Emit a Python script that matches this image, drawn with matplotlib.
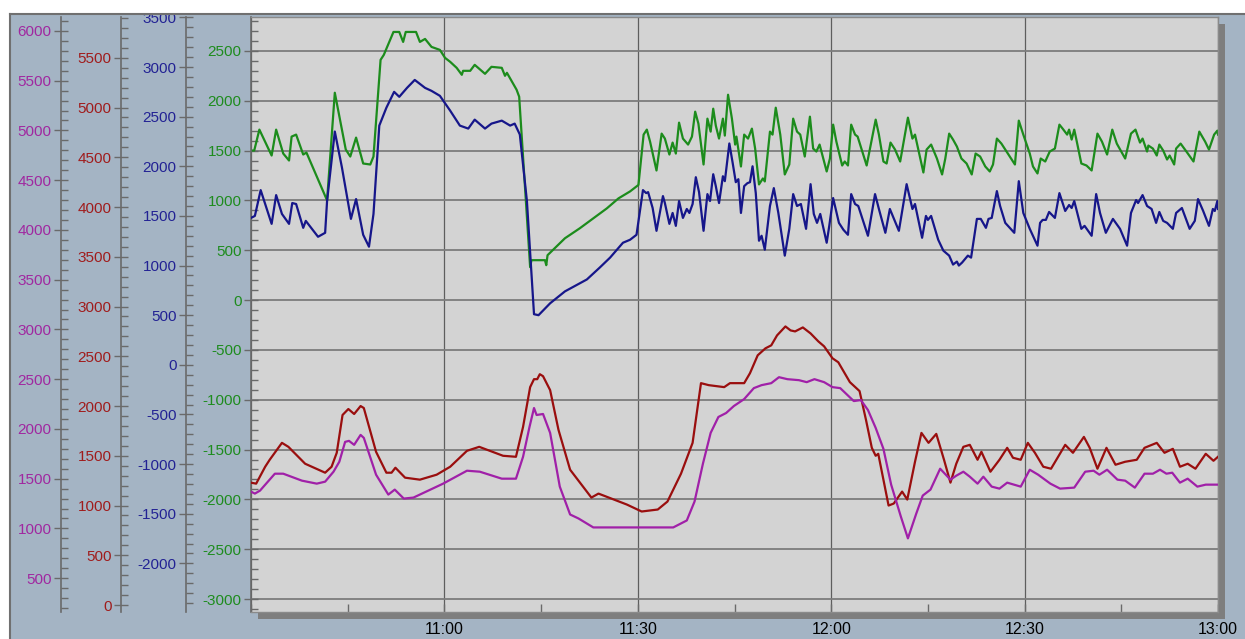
import matplotlib.pyplot as plt
from matplotlib.patches import Rectangle
from matplotlib.ticker import MultipleLocator, FuncFormatter

plt.rcParams['font.family'] = ['Liberation Sans', 'DejaVu Sans']
plt.rcParams['axes.unicode_minus'] = False

# time axis: minutes after 10:30
green_t = [0.0, 0.5, 1.3, 3.2, 3.9, 5.0, 5.9, 6.3, 7.0, 8.1, 8.6, 11.8, 13.0, 14.7, 15.4, 16.3,
           17.4, 18.5, 19.0, 20.1, 20.6, 22.1, 23.0, 23.6, 24.0, 25.6, 26.2, 27.0, 28.0, 29.3,
           30.1, 30.9, 31.9, 32.7, 32.9, 34.0, 34.7, 36.3, 37.3, 38.9, 39.4, 39.7, 41.2, 41.6,
           43.3, 43.5, 45.6, 45.8, 46.0, 48.7, 51.0, 55.2, 57.0, 58.8, 60.1, 60.9, 61.4, 61.9,
           62.9, 63.7, 64.2, 64.9, 65.4, 65.9, 66.4, 67.0, 67.8, 68.4, 68.9, 69.4, 70.2, 70.8,
           71.3, 71.7, 72.1, 72.6, 73.2, 73.5, 74.0, 74.6, 75.1, 75.3, 76.0, 76.5, 77.1, 77.7,
           78.2, 78.8, 79.4, 79.7, 80.5, 80.9, 81.4, 82.1, 82.8, 83.5, 84.1, 84.7, 85.2, 85.9,
           86.7, 87.2, 87.7, 88.2, 89.3, 89.8, 90.3, 90.8, 91.7, 92.1, 92.6, 93.1, 93.7, 94.1,
           95.5, 96.9, 97.4, 98.1, 98.6, 99.2, 99.9, 100.7, 101.9, 102.6, 103.0, 104.3, 104.8,
           105.5, 106.4, 107.2, 107.7, 108.3, 108.9, 109.5, 110.2, 111.0, 111.8, 112.4, 113.1,
           113.9, 114.6, 115.1, 115.7, 116.4, 117.5, 118.5, 119.1, 119.8, 120.8, 121.3, 122.0,
           122.5, 123.2, 123.9, 124.7, 125.4, 125.9, 126.6, 126.9, 127.3, 127.7, 128.0, 128.8,
           129.6, 130.4, 131.3, 132.0, 132.8, 133.6, 134.3, 135.6, 136.5, 137.2, 137.9, 138.3,
           139.0, 139.2, 139.9, 140.5, 140.9, 141.5, 142.1, 142.5, 143.2, 143.5, 144.2, 145.1,
           146.2, 147.1, 148.0, 148.6, 149.4, 149.9, 150.0]
green_v = [1500, 1500, 1710, 1450, 1710, 1470, 1400, 1640, 1660, 1460, 1480, 1000, 2080, 1510,
           1440, 1630, 1370, 1360, 1440, 2410, 2460, 2690, 2690, 2590, 2690, 2690, 2590, 2620,
           2540, 2510, 2430, 2390, 2330, 2260, 2300, 2300, 2360, 2270, 2340, 2330, 2250, 2280,
           2110, 2040, 330, 400, 400, 350, 450, 620, 720, 920, 1020, 1090, 1155, 1660, 1710,
           1590, 1300, 1670, 1620, 1460, 1580, 1470, 1780, 1620, 1560, 1640, 1890, 1770, 1360,
           1820, 1690, 1920, 1750, 1620, 1820, 1650, 2060, 1820, 1560, 1640, 1340, 1660, 1620,
           1720, 1520, 1160, 1220, 1190, 1690, 1660, 1930, 1660, 1260, 1360, 1820, 1690, 1660,
           1440, 1840, 1520, 1490, 1560, 1290, 1420, 1760, 1590, 1350, 1390, 1350, 1760, 1660,
           1640, 1350, 1810, 1660, 1390, 1370, 1580, 1510, 1390, 1830, 1620, 1660, 1280, 1510,
           1560, 1420, 1260, 1420, 1670, 1610, 1540, 1420, 1370, 1260, 1470, 1440, 1340, 1290,
           1360, 1620, 1570, 1460, 1360, 1800, 1660, 1470, 1340, 1270, 1420, 1390, 1490, 1520,
           1760, 1720, 1660, 1710, 1610, 1710, 1620, 1370, 1350, 1300, 1670, 1590, 1460, 1710,
           1570, 1420, 1670, 1710, 1580, 1620, 1490, 1550, 1520, 1450, 1560, 1500, 1410, 1450,
           1360, 1520, 1570, 1490, 1390, 1690, 1590, 1510, 1660, 1700, 1660]

blue_t = [0.0, 0.6, 1.5, 3.2, 3.9, 4.8, 5.9, 6.4, 7.0, 8.1, 8.5, 10.4, 11.5, 11.8, 13.0, 14.1,
          15.5, 16.3, 17.4, 18.3, 19.0, 19.9, 21.0, 22.2, 23.0, 24.2, 25.4, 27.0, 28.0, 29.3,
          30.9, 32.4, 33.7, 34.7, 36.3, 37.3, 38.9, 40.2, 40.9, 41.7, 42.8, 43.9, 44.6, 46.4,
          48.7, 52.1, 54.1, 55.7, 57.7, 58.8, 59.8, 60.8, 61.3, 61.6, 62.3, 62.9, 63.9, 64.2,
          64.9, 65.4, 65.9, 66.4, 67.0, 67.6, 68.0, 68.5, 69.0, 69.5, 70.2, 70.8, 71.2, 71.7,
          72.1, 72.6, 73.2, 73.5, 74.2, 74.7, 75.2, 75.6, 76.0, 76.5, 77.0, 77.4, 77.8, 78.3,
          78.8, 79.2, 79.7, 80.5, 81.1, 81.8, 82.8, 83.5, 84.1, 84.7, 85.3, 86.1, 86.8, 87.3,
          87.8, 88.3, 89.3, 89.7, 90.3, 91.2, 91.9, 92.6, 93.1, 93.7, 94.2, 95.7, 96.8, 97.4,
          98.4, 99.1, 100.5, 101.7, 102.6, 103.0, 104.1, 104.7, 105.0, 105.5, 106.6, 107.4,
          108.3, 108.9, 109.5, 109.8, 110.3, 111.2, 111.7, 112.6, 113.2, 114.0, 114.4, 114.9,
          115.7, 116.2, 117.0, 118.4, 119.1, 119.8, 120.8, 122.0, 122.4, 122.8, 123.3, 123.8,
          124.7, 125.4, 126.3, 126.9, 127.3, 127.7, 128.8, 129.3, 130.4, 131.1, 131.7, 132.6,
          133.7, 134.8, 135.9, 136.5, 137.3, 137.6, 138.3, 139.0, 139.7, 140.4, 140.9, 141.5,
          142.1, 143.0, 143.5, 144.4, 145.6, 146.4, 146.9, 147.7, 148.6, 149.2, 149.5, 149.9,
          150.0]
blue_v = [1480, 1500, 1760, 1420, 1710, 1520, 1420, 1630, 1620, 1380, 1450, 1290, 1330, 1650,
          2350, 1990, 1470, 1670, 1310, 1190, 1520, 2410, 2590, 2750, 2700, 2790, 2870, 2790,
          2760, 2710, 2560, 2410, 2380, 2470, 2380, 2430, 2460, 2410, 2430, 2320, 1650, 510,
          500, 620, 740, 860, 980, 1080, 1230, 1260, 1310, 1760, 1730, 1740, 1580, 1350, 1700,
          1630, 1420, 1530, 1400, 1650, 1480, 1570, 1530, 1620, 1890, 1740, 1350, 1720, 1650,
          1920, 1800, 1630, 1900, 1850, 2230, 2040, 1840, 1870, 1530, 1800, 1830, 1840, 2000,
          1730, 1250, 1300, 1160, 1600, 1780, 1530, 1100, 1370, 1720, 1600, 1620, 1370, 1820,
          1520, 1430, 1520, 1230, 1400, 1680, 1430, 1360, 1310, 1720, 1620, 1600, 1300, 1720,
          1570, 1330, 1570, 1350, 1820, 1570, 1620, 1280, 1500, 1460, 1500, 1260, 1150, 1100,
          1010, 1040, 1000, 1030, 1100, 1080, 1470, 1470, 1380, 1470, 1480, 1750, 1600, 1430,
          1330, 1850, 1530, 1370, 1200, 1430, 1460, 1460, 1540, 1480, 1730, 1550, 1610, 1580,
          1650, 1370, 1400, 1300, 1720, 1530, 1330, 1470, 1370, 1200, 1530, 1660, 1630, 1710,
          1600, 1570, 1430, 1540, 1450, 1430, 1370, 1530, 1580, 1370, 1450, 1670, 1550, 1400,
          1570, 1550, 1650, 1570]

red_t = [0.0, 0.8, 2.2, 2.9, 4.8, 5.8, 8.4, 11.5, 12.5, 13.3, 14.2, 15.1, 16.0, 17.0, 17.5,
         19.4, 21.0, 21.8, 22.4, 23.9, 26.2, 28.8, 30.9, 33.5, 35.4, 39.1, 41.1, 42.2, 43.3,
         43.9, 44.4, 44.8, 45.3, 46.4, 47.7, 49.5, 52.8, 53.9, 58.3, 60.6, 63.1, 64.6, 66.7,
         68.5, 69.8, 71.0, 73.4, 74.3, 76.5, 77.4, 78.6, 79.8, 80.7, 81.6, 82.9, 83.7, 84.4,
         85.6, 86.8, 88.0, 88.9, 90.2, 91.1, 92.9, 94.4, 95.4, 96.3, 96.9, 97.3, 98.9, 99.7,
         101.0, 101.8, 103.0, 104.0, 105.1, 106.3, 107.5, 108.5, 109.4, 110.5, 111.5, 112.7,
         113.3, 114.7, 116.1, 117.3, 118.2, 119.4, 120.5, 121.6, 122.9, 124.1, 126.3, 127.5,
         129.2, 130.1, 131.3, 132.7, 134.1, 135.6, 137.4, 138.6, 140.5, 141.7, 143.0, 144.1,
         145.3, 146.5, 148.1, 149.3, 150.0]
red_v = [1230, 1220, 1390, 1460, 1630, 1590, 1420, 1330, 1390, 1530, 1910, 1970, 1920, 2000,
         1980, 1540, 1330, 1330, 1380, 1280, 1260, 1310, 1390, 1550, 1590, 1500, 1490, 1790,
         2190, 2270, 2270, 2320, 2300, 2160, 1760, 1360, 1080, 1120, 1010, 940, 960, 1040,
         1320, 1630, 2230, 2210, 2190, 2230, 2230, 2330, 2510, 2580, 2610, 2710, 2800, 2760,
         2750, 2790, 2730, 2650, 2600, 2480, 2440, 2240, 2150, 1860, 1580, 1500, 1520, 1000,
         1020, 1140, 1060, 1440, 1730, 1630, 1720, 1460, 1230, 1420, 1590, 1610, 1460, 1540,
         1340, 1460, 1580, 1480, 1460, 1630, 1530, 1390, 1370, 1610, 1530, 1690, 1580, 1370,
         1580, 1410, 1440, 1460, 1580, 1630, 1530, 1570, 1390, 1420, 1370, 1520, 1450, 1490]

purple_t = [0.0, 0.6, 1.4, 3.7, 5.0, 7.9, 10.2, 11.5, 12.8, 13.7, 14.6, 15.2, 16.0, 17.0, 17.5,
            19.4, 21.3, 22.3, 23.7, 25.2, 29.8, 33.5, 35.5, 38.9, 41.1, 42.2, 43.2, 43.9, 44.3,
            45.3, 46.4, 47.9, 49.5, 50.8, 53.1, 65.5, 67.6, 68.8, 70.1, 71.3, 72.5, 73.7, 74.9,
            76.5, 78.0, 79.2, 80.7, 81.9, 83.2, 85.0, 86.2, 87.4, 88.9, 90.2, 91.4, 93.5, 94.6,
            95.7, 96.9, 98.1, 99.3, 100.8, 101.9, 103.2, 104.2, 105.4, 106.9, 108.5, 109.4,
            110.5, 111.5, 112.7, 113.6, 114.9, 116.1, 117.3, 119.4, 120.8, 122.1, 124.0, 125.5,
            127.7, 129.4, 130.7, 131.6, 132.8, 134.4, 135.6, 137.1, 138.6, 139.9, 141.0, 142.0,
            142.9, 144.1, 145.3, 146.8, 148.1, 149.0, 150.0]
purple_v = [1370, 1350, 1380, 1550, 1550, 1480, 1450, 1470, 1570, 1670, 1870, 1880, 1840, 1940,
            1910, 1540, 1340, 1390, 1300, 1310, 1450, 1580, 1570, 1500, 1500, 1720, 2020, 2210,
            2140, 2150, 1960, 1420, 1140, 1100, 1010, 1010, 1080, 1270, 1650, 1960, 2120, 2160,
            2230, 2300, 2410, 2440, 2460, 2520, 2500, 2490, 2470, 2500, 2470, 2420, 2410, 2280,
            2290, 2190, 2010, 1800, 1440, 1120, 900, 1150, 1330, 1390, 1600, 1490, 1530, 1570,
            1520, 1450, 1520, 1420, 1400, 1460, 1420, 1590, 1540, 1450, 1400, 1410, 1570, 1580,
            1540, 1590, 1490, 1480, 1410, 1550, 1550, 1590, 1550, 1560, 1460, 1500, 1420, 1440,
            1440, 1440]

time_major = 30
time_minor = 15

W, H = 1245, 639
fig = plt.figure(figsize=(W / 100, H / 100), dpi=100, facecolor='white')

# panel background and frame
fig.patches.append(Rectangle((10 / W, -0.01), 1.0, (H - 14) / H + 0.01, transform=fig.transFigure,
                             facecolor='#A4B4C4', edgecolor='none', zorder=-2))
# drop shadow behind the plot area
fig.patches.append(Rectangle((258 / W, (H - 619) / H), (1225 - 258) / W, (619 - 24) / H,
                             transform=fig.transFigure, facecolor='#7E7E7E',
                             edgecolor='none', zorder=-1))
# white margin on top clips anything poking out of the panel, then the frame lines
fig.patches.append(Rectangle((0, (H - 14) / H), 1, 14 / H, transform=fig.transFigure,
                             facecolor='white', edgecolor='none', zorder=5))
fig.add_artist(plt.Line2D([10 / W, 1], [(H - 14) / H] * 2, transform=fig.transFigure,
                          color='#707070', lw=1.5, zorder=6))
fig.add_artist(plt.Line2D([10 / W] * 2, [0, (H - 14) / H], transform=fig.transFigure,
                          color='#707070', lw=1.5, zorder=6))

ax = fig.add_axes([251 / W, (H - 612) / H, (1218 - 251) / W, (612 - 17) / H])
ax.set_facecolor('#D3D3D3')
ax.set_xlim(0, 150)


def style_y(a, color):
    a.yaxis.set_major_locator(MultipleLocator(500))
    a.yaxis.set_minor_locator(MultipleLocator(100))
    a.yaxis.set_major_formatter(FuncFormatter(lambda v, _: f"{int(round(v))}"))
    a.tick_params(axis='y', which='major', direction='inout', length=10.5, width=1,
                  color='#6A6A6A', labelcolor=color, labelsize=11, pad=1.5)
    a.tick_params(axis='y', which='minor', direction='in', length=5, width=1, color='#6A6A6A')
    a.spines['left'].set_color('#6A6A6A')
    a.spines['left'].set_linewidth(1.2)


def side_axis(offset_px, lo, hi, color):
    a = ax.twinx()
    a.set_ylim(lo, hi)
    a.yaxis.tick_left()
    a.spines['left'].set_visible(True)
    a.spines['left'].set_position(('outward', offset_px * 0.72))
    for s in ('right', 'top', 'bottom'):
        a.spines[s].set_visible(False)
    style_y(a, color)
    return a


ax.set_ylim(-3130, 2840)
style_y(ax, '#1E8C1E')
for s in ('top', 'right', 'bottom'):
    ax.spines[s].set_color('#8A8A8A')
    ax.spines[s].set_linewidth(1.0)

ax_blue = side_axis(65, -2490, 3504, '#222294')
ax_red = side_axis(130, -70, 5910, '#A01C1C')
ax_purple = side_axis(190, 160, 6140, '#A028A0')

# time axis
ax.xaxis.set_major_locator(MultipleLocator(time_major))
ax.xaxis.set_minor_locator(MultipleLocator(time_minor))


def clock(m, _):
    if m <= 0:
        return ""
    total = 630 + int(round(m))
    return f"{total // 60}:{total % 60:02d}"


ax.xaxis.set_major_formatter(FuncFormatter(clock))
ax.tick_params(axis='x', which='both', direction='in', length=6, width=1, color='#6A6A6A',
               labelsize=11.5, pad=7)

ax.grid(axis='y', which='major', color='#7C7C7C', lw=1.3)
ax.grid(axis='x', which='major', color='#5E5E5E', lw=0.9)

ax.plot(green_t, green_v, color='#1C8C1C', lw=1.6)
ax_blue.plot(blue_t, blue_v, color='#16168A', lw=1.6)
ax_red.plot(red_t, red_v, color='#9A0E0E', lw=1.6)
ax_purple.plot(purple_t, purple_v, color='#A020A8', lw=1.6)

fig.savefig('out.png', dpi=100, facecolor=fig.get_facecolor())
